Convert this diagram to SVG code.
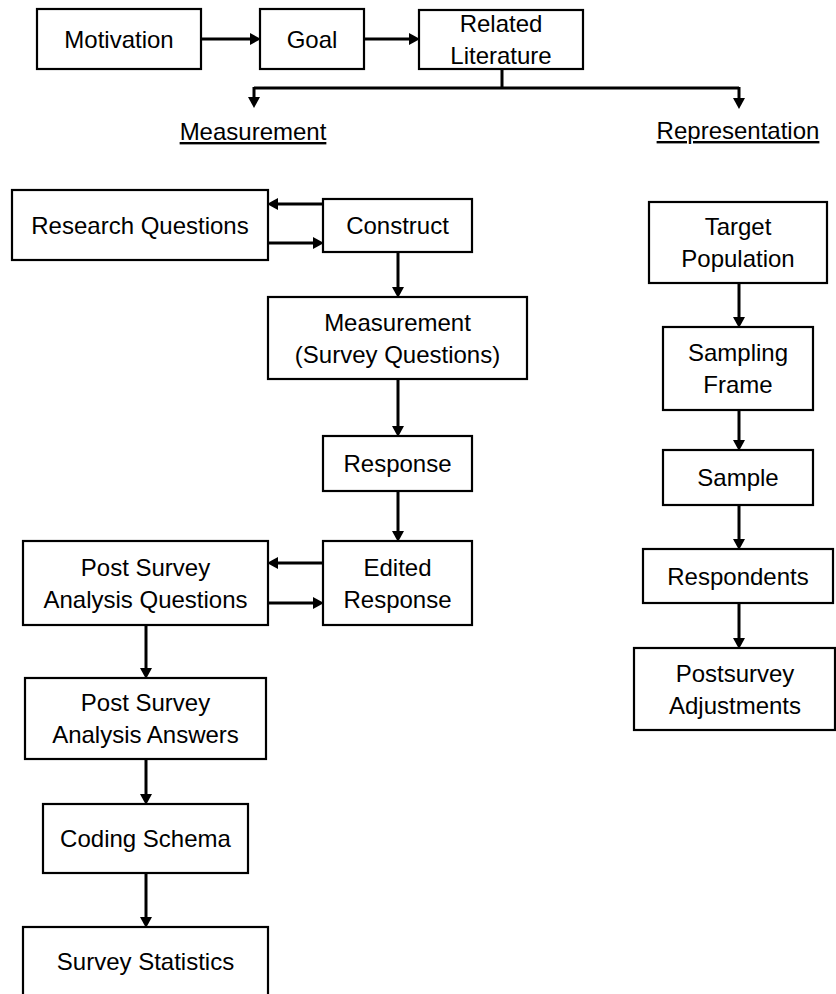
<svg xmlns="http://www.w3.org/2000/svg" width="836" height="994" viewBox="0 0 836 994">
<style>
.box{fill:#fff;stroke:#000;stroke-width:2.2}
.t{font-family:"Liberation Sans",Arial,sans-serif;font-size:24px;fill:#000;text-anchor:middle}
.hdr{text-decoration:underline}
.c{fill:none;stroke:#000;stroke-width:3}
</style>
<defs>
<marker id="ah" markerUnits="userSpaceOnUse" markerWidth="12" markerHeight="12" refX="5" refY="6" orient="auto">
<path d="M0,0 L11,6 L0,12 z" fill="#000"/>
</marker>
</defs>
<rect width="836" height="994" fill="#fff"/>
<g id="connectors">
<path class="c" d="M201,39 H255" marker-end="url(#ah)"/>
<path class="c" d="M364,39 H414" marker-end="url(#ah)"/>
<path class="c" d="M502,69 V88 M254,88 H739"/>
<path class="c" d="M254,87 V102" marker-end="url(#ah)"/>
<path class="c" d="M739,87 V103" marker-end="url(#ah)"/>
<path class="c" d="M323,204 H273" marker-end="url(#ah)"/>
<path class="c" d="M268,243 H318" marker-end="url(#ah)"/>
<path class="c" d="M398,252 V292" marker-end="url(#ah)"/>
<path class="c" d="M398,379 V431" marker-end="url(#ah)"/>
<path class="c" d="M398,491 V536" marker-end="url(#ah)"/>
<path class="c" d="M323,563 H273" marker-end="url(#ah)"/>
<path class="c" d="M268,603 H318" marker-end="url(#ah)"/>
<path class="c" d="M146,625 V673" marker-end="url(#ah)"/>
<path class="c" d="M146,759 V799" marker-end="url(#ah)"/>
<path class="c" d="M146,873 V922" marker-end="url(#ah)"/>
<path class="c" d="M739,283 V322" marker-end="url(#ah)"/>
<path class="c" d="M739,410 V445" marker-end="url(#ah)"/>
<path class="c" d="M739,505 V544" marker-end="url(#ah)"/>
<path class="c" d="M739,603 V643" marker-end="url(#ah)"/>
</g>
<g id="motivation"><rect class="box" x="37" y="9" width="164" height="60"/><text class="t" x="119" y="48">Motivation</text></g>
<g id="goal"><rect class="box" x="260" y="9" width="104" height="60"/><text class="t" x="312" y="48">Goal</text></g>
<g id="related-literature"><rect class="box" x="419" y="10" width="164" height="59"/><text class="t" x="501" y="31.5">Related</text><text class="t" x="501" y="63.5">Literature</text></g>
<g id="measurement-header"><text class="t hdr" x="253" y="140">Measurement</text></g>
<g id="representation-header"><text class="t hdr" x="738" y="139">Representation</text></g>
<g id="research-questions"><rect class="box" x="12" y="190" width="256" height="70"/><text class="t" x="140" y="233.5">Research Questions</text></g>
<g id="construct"><rect class="box" x="323" y="199" width="149" height="53"/><text class="t" x="397.5" y="234">Construct</text></g>
<g id="measurement"><rect class="box" x="268" y="297" width="259" height="82"/><text class="t" x="397.5" y="330.5">Measurement</text><text class="t" x="397.5" y="362.5">(Survey Questions)</text></g>
<g id="response"><rect class="box" x="323" y="436" width="149" height="55"/><text class="t" x="397.5" y="472">Response</text></g>
<g id="edited-response"><rect class="box" x="323" y="541" width="149" height="84"/><text class="t" x="397.5" y="575.5">Edited</text><text class="t" x="397.5" y="607.5">Response</text></g>
<g id="post-survey-analysis-questions"><rect class="box" x="23" y="541" width="245" height="84"/><text class="t" x="145.5" y="575.5">Post Survey</text><text class="t" x="145.5" y="607.5">Analysis Questions</text></g>
<g id="post-survey-analysis-answers"><rect class="box" x="25" y="678" width="241" height="81"/><text class="t" x="145.5" y="711">Post Survey</text><text class="t" x="145.5" y="743">Analysis Answers</text></g>
<g id="coding-schema"><rect class="box" x="43" y="804" width="205" height="69"/><text class="t" x="145.5" y="847">Coding Schema</text></g>
<g id="survey-statistics"><rect class="box" x="23" y="927" width="245" height="70"/><text class="t" x="145.5" y="970">Survey Statistics</text></g>
<g id="target-population"><rect class="box" x="649" y="202" width="178" height="81"/><text class="t" x="738" y="234.5">Target</text><text class="t" x="738" y="266.5">Population</text></g>
<g id="sampling-frame"><rect class="box" x="663" y="327" width="150" height="83"/><text class="t" x="738" y="361">Sampling</text><text class="t" x="738" y="393">Frame</text></g>
<g id="sample"><rect class="box" x="663" y="450" width="150" height="55"/><text class="t" x="738" y="486">Sample</text></g>
<g id="respondents"><rect class="box" x="643" y="549" width="190" height="54"/><text class="t" x="738" y="584.5">Respondents</text></g>
<g id="postsurvey-adjustments"><rect class="box" x="634" y="648" width="201" height="82"/><text class="t" x="735" y="681.5">Postsurvey</text><text class="t" x="735" y="713.5">Adjustments</text></g>
</svg>
